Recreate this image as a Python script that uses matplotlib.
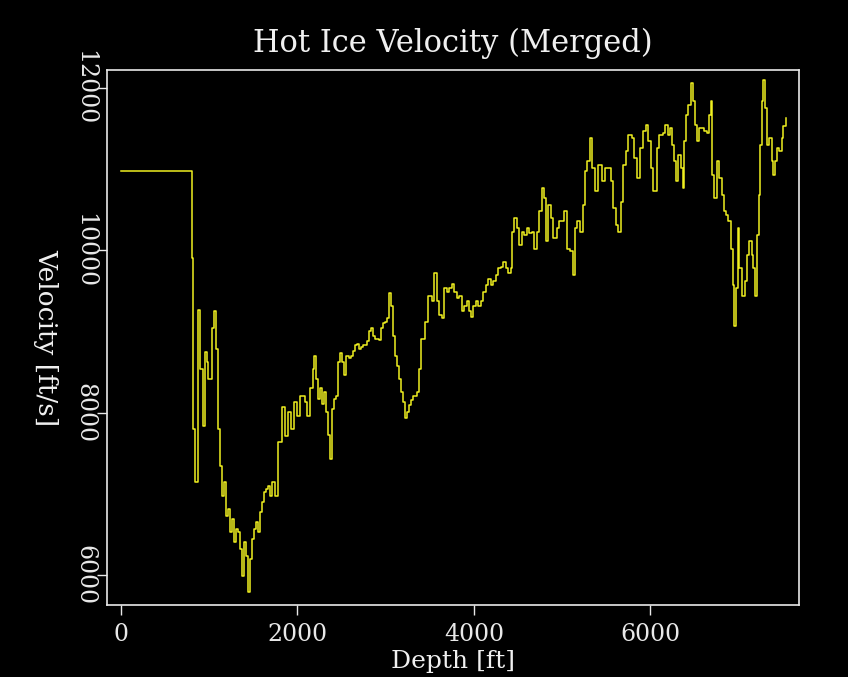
import numpy as np
import matplotlib
matplotlib.use("Agg")
import matplotlib.pyplot as plt

# depth [ft] and merged velocity [ft/s]
depth = [0, 782, 804, 816, 838, 872, 895, 929, 952, 974, 986, 1031, 1054, 1076,
         1099, 1122, 1144, 1167, 1190, 1212, 1235, 1258, 1280, 1303, 1326, 1348,
         1371, 1394, 1416, 1439, 1462, 1484, 1507, 1530, 1552, 1575, 1598, 1620,
         1643, 1666, 1688, 1711, 1745, 1779, 1824, 1858, 1892, 1926, 1960, 1994,
         2028, 2085, 2107, 2141, 2175, 2187, 2209, 2232, 2255, 2277, 2300, 2323,
         2345, 2368, 2391, 2413, 2436, 2459, 2481, 2504, 2527, 2549, 2583, 2606,
         2629, 2651, 2674, 2697, 2719, 2742, 2787, 2810, 2833, 2855, 2878, 2923,
         2946, 2968, 2991, 3014, 3036, 3059, 3082, 3104, 3127, 3150, 3172, 3195,
         3218, 3240, 3263, 3286, 3308, 3331, 3354, 3376, 3399, 3444, 3478, 3524,
         3546, 3580, 3603, 3637, 3660, 3694, 3716, 3750, 3773, 3807, 3830, 3864,
         3886, 3920, 3943, 3966, 3988, 4022, 4045, 4079, 4101, 4135, 4158, 4192,
         4215, 4249, 4271, 4305, 4328, 4362, 4385, 4419, 4430, 4453, 4487, 4509,
         4543, 4566, 4600, 4623, 4657, 4679, 4713, 4736, 4770, 4793, 4815, 4838,
         4872, 4895, 4940, 4963, 4974, 5019, 5053, 5087, 5121, 5144, 5166, 5200,
         5234, 5257, 5280, 5314, 5336, 5370, 5404, 5450, 5484, 5518, 5552, 5574,
         5608, 5631, 5665, 5688, 5722, 5744, 5790, 5812, 5846, 5880, 5914, 5948,
         5971, 6005, 6028, 6073, 6096, 6141, 6164, 6198, 6220, 6243, 6265, 6288,
         6311, 6345, 6367, 6379, 6401, 6424, 6458, 6481, 6503, 6526, 6549, 6583,
         6605, 6639, 6662, 6685, 6696, 6719, 6753, 6775, 6809, 6832, 6855, 6877,
         6911, 6934, 6945, 6968, 6991, 7002, 7036, 7047, 7070, 7093, 7115, 7149,
         7161, 7183, 7206, 7229, 7240, 7263, 7274, 7297, 7319, 7342, 7376, 7387,
         7410, 7432, 7455, 7489, 7500, 7534]
velocity = [10980, 10980, 9900, 7800, 7150, 9260, 8540, 7830, 8750, 8630, 8420, 9040,
            9250, 8790, 7800, 7340, 6970, 7150, 6730, 6810, 6530, 6690, 6400, 6570,
            6530, 6320, 5990, 6400, 6230, 5790, 6200, 6440, 6570, 6650, 6530, 6780,
            6900, 7020, 7060, 7100, 6970, 7150, 6970, 7640, 8070, 7710, 8010, 7800,
            8130, 7960, 8200, 8130, 7960, 8300, 8540, 8700, 8420, 8170, 8300, 8110,
            8260, 8010, 7720, 7430, 8050, 8170, 8210, 8630, 8730, 8630, 8460, 8700,
            8670, 8700, 8760, 8830, 8850, 8790, 8810, 8830, 8880, 9000, 9040, 8940,
            8910, 8890, 9040, 9100, 9120, 9160, 9470, 9320, 8950, 8700, 8570, 8420,
            8260, 8130, 7930, 8010, 8090, 8150, 8200, 8210, 8260, 8540, 8910, 9120,
            9440, 9370, 9720, 9370, 9200, 9160, 9530, 9490, 9530, 9590, 9490, 9410,
            9440, 9250, 9320, 9370, 9250, 9180, 9320, 9370, 9310, 9370, 9490, 9570,
            9650, 9570, 9620, 9690, 9780, 9800, 9860, 9780, 9720, 9780, 10230, 10400,
            10270, 10060, 10230, 10190, 10270, 10210, 10230, 10020, 10230, 10480, 10770,
            10640, 10110, 10560, 10400, 10150, 10270, 10360, 10360, 10490, 10020, 9990,
            9690, 10270, 10360, 10230, 10560, 10980, 11100, 11380, 11010, 10730, 11050,
            10850, 11010, 11010, 10850, 10520, 10310, 10230, 10600, 11050, 11220, 11420,
            11380, 11140, 10890, 11260, 11470, 11540, 11350, 11010, 10730, 11260, 11420,
            11440, 11540, 11420, 11510, 11300, 11100, 10850, 11170, 11010, 10770, 11350,
            11670, 11790, 12060, 11840, 11540, 11350, 11510, 11510, 11470, 11440, 11670,
            11840, 10930, 10640, 11100, 10890, 10680, 10480, 10430, 10360, 10020, 9570,
            9070, 9530, 10270, 9780, 9440, 9440, 9620, 9940, 10110, 9940, 9780, 9440,
            10190, 10680, 11300, 11840, 12100, 11750, 11300, 11380, 11100, 10930, 11100,
            11260, 11220, 11380, 11530, 11630]

xticks = [0, 2000, 4000, 6000]
yticks = [6000, 8000, 10000, 12000]

plt.rcParams['font.family'] = ['DejaVu Serif', 'DejaVu Sans']

fig = plt.figure(figsize=(8.48, 6.77), dpi=100, facecolor='black')
ax = fig.add_axes([0.126, 0.1064, 0.816, 0.7902], facecolor='black')

ax.plot(depth, velocity, color='#f0f020', linewidth=1.1, drawstyle='steps-post')

ax.set_xlim(-159, 7683)
ax.set_ylim(5630, 12222)
ax.set_xticks(xticks)
ax.set_yticks(yticks)

for s in ax.spines.values():
    s.set_color('#e8e8e8')
    s.set_linewidth(1.2)
ax.tick_params(colors='#e8e8e8', direction='out', length=7, width=1.0, labelsize=17)
ax.tick_params(axis='x', pad=6)
for lab in ax.get_yticklabels():
    lab.set_rotation(-90)
    lab.set_va('center')
    lab.set_ha('center')
ax.tick_params(axis='y', pad=9)

ax.set_title('Hot Ice Velocity (Merged)', color='#f0f0f0', fontsize=22, pad=13)
ax.set_xlabel('Depth [ft]', color='#f0f0f0', fontsize=18, labelpad=3)
ax.set_ylabel('Velocity [ft/s]', color='#f0f0f0', fontsize=19, rotation=-90,
              va='center', ha='center')
ax.yaxis.set_label_coords(-0.089, 0.5)

fig.savefig('out.png', dpi=100, facecolor='black')
